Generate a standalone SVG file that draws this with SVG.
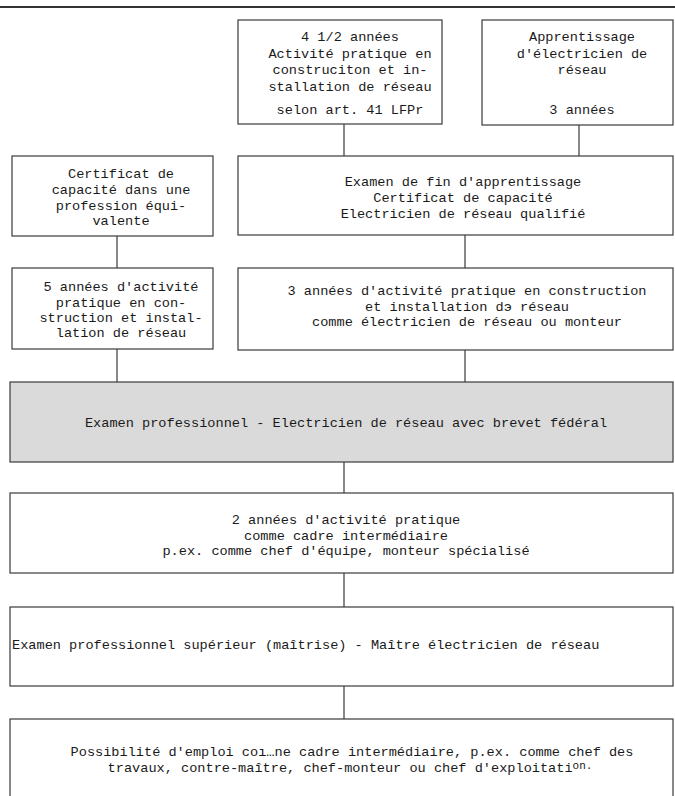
<svg xmlns="http://www.w3.org/2000/svg" width="675" height="796" viewBox="0 0 675 796">
<style>
.box{fill:#ffffff;stroke:#3a3a3a;stroke-width:1.2}
.grey{fill:#dadada;stroke:#3a3a3a;stroke-width:1.2}
.t{font-family:"Liberation Mono","DejaVu Sans Mono",monospace;font-size:13.6px;fill:#1a1a1a;text-anchor:middle}
.l{text-anchor:start}
.c{stroke:#3a3a3a;stroke-width:1.2;fill:none}
</style>
<rect x="0" y="0" width="675" height="796" fill="#ffffff"/>
<line x1="0" y1="7" x2="675" y2="7" stroke="#333" stroke-width="2"/>
<g id="connectors">
<line class="c" x1="344" y1="124" x2="344" y2="156"/>
<line class="c" x1="579" y1="125" x2="579" y2="156"/>
<line class="c" x1="117" y1="236" x2="117" y2="268"/>
<line class="c" x1="465" y1="235" x2="465" y2="268"/>
<line class="c" x1="117" y1="349" x2="117" y2="382"/>
<line class="c" x1="465" y1="350" x2="465" y2="382"/>
<line class="c" x1="344" y1="462" x2="344" y2="493"/>
<line class="c" x1="344" y1="573" x2="344" y2="607"/>
<line class="c" x1="344" y1="686" x2="344" y2="719"/>
</g>
<g id="n_practice45">
<rect class="box" x="238" y="20" width="204" height="104"/>
<text class="t" x="350" y="41">4 1/2 années</text>
<text class="t" x="350" y="57.5">Activité pratique en</text>
<text class="t" x="350" y="74">construciton et in-</text>
<text class="t" x="350" y="90.5">stallation de réseau</text>
<text class="t" x="350" y="114">selon art. 41 LFPr</text>
</g>
<g id="n_apprentissage">
<rect class="box" x="482" y="20" width="191" height="105"/>
<text class="t" x="582" y="41">Apprentissage</text>
<text class="t" x="582" y="57.5">d'électricien de</text>
<text class="t" x="582" y="74">réseau</text>
<text class="t" x="582" y="114">3 années</text>
</g>
<g id="n_certificat_equiv">
<rect class="box" x="12" y="156" width="201" height="80"/>
<text class="t" x="121" y="178">Certificat de</text>
<text class="t" x="121" y="194">capacité dans une</text>
<text class="t" x="121" y="209.5">profession équi-</text>
<text class="t" x="121" y="225">valente</text>
</g>
<g id="n_examen_fin">
<rect class="box" x="238" y="156" width="435" height="79"/>
<text class="t" x="463" y="186">Examen de fin d'apprentissage</text>
<text class="t" x="463" y="202">Certificat de capacité</text>
<text class="t" x="463" y="218">Electricien de réseau qualifié</text>
</g>
<g id="n_5annees">
<rect class="box" x="12" y="268" width="201" height="81"/>
<text class="t" x="121" y="291">5 années d'activité</text>
<text class="t" x="121" y="307">pratique en con-</text>
<text class="t" x="121" y="322">struction et instal-</text>
<text class="t" x="121" y="337">lation de réseau</text>
</g>
<g id="n_3annees">
<rect class="box" x="238" y="268" width="435" height="82"/>
<text class="t" x="467" y="295">3 années d'activité pratique en construction</text>
<text class="t" x="467" y="310.5">et installation dэ réseau</text>
<text class="t" x="467" y="326">comme électricien de réseau ou monteur</text>
</g>
<g id="n_examen_pro">
<rect class="grey" x="10" y="382" width="663" height="80"/>
<text class="t" x="346" y="427">Examen professionnel - Electricien de réseau avec brevet fédéral</text>
</g>
<g id="n_2annees">
<rect class="box" x="10" y="493" width="663" height="80"/>
<text class="t" x="346" y="524">2 années d'activité pratique</text>
<text class="t" x="346" y="540">comme cadre intermédiaire</text>
<text class="t" x="346" y="555">p.ex. comme chef d'équipe, monteur spécialisé</text>
</g>
<g id="n_maitrise">
<rect class="box" x="10" y="607" width="663" height="79"/>
<text class="t l" x="12" y="649">Examen professionnel supérieur (maîtrise) - Maître électricien de réseau</text>
</g>
<g id="n_emploi">
<rect class="box" x="10" y="719" width="663" height="90"/>
<text class="t" x="352" y="756">Possibilité d'emploi coı…ne cadre intermédiaire, p.ex. comme chef des</text>
<text class="t" x="350" y="772">travaux, contre-maître, chef-monteur ou chef d'exploitati<tspan dy="-3.5" font-size="11">on.</tspan></text>
</g>
</svg>
